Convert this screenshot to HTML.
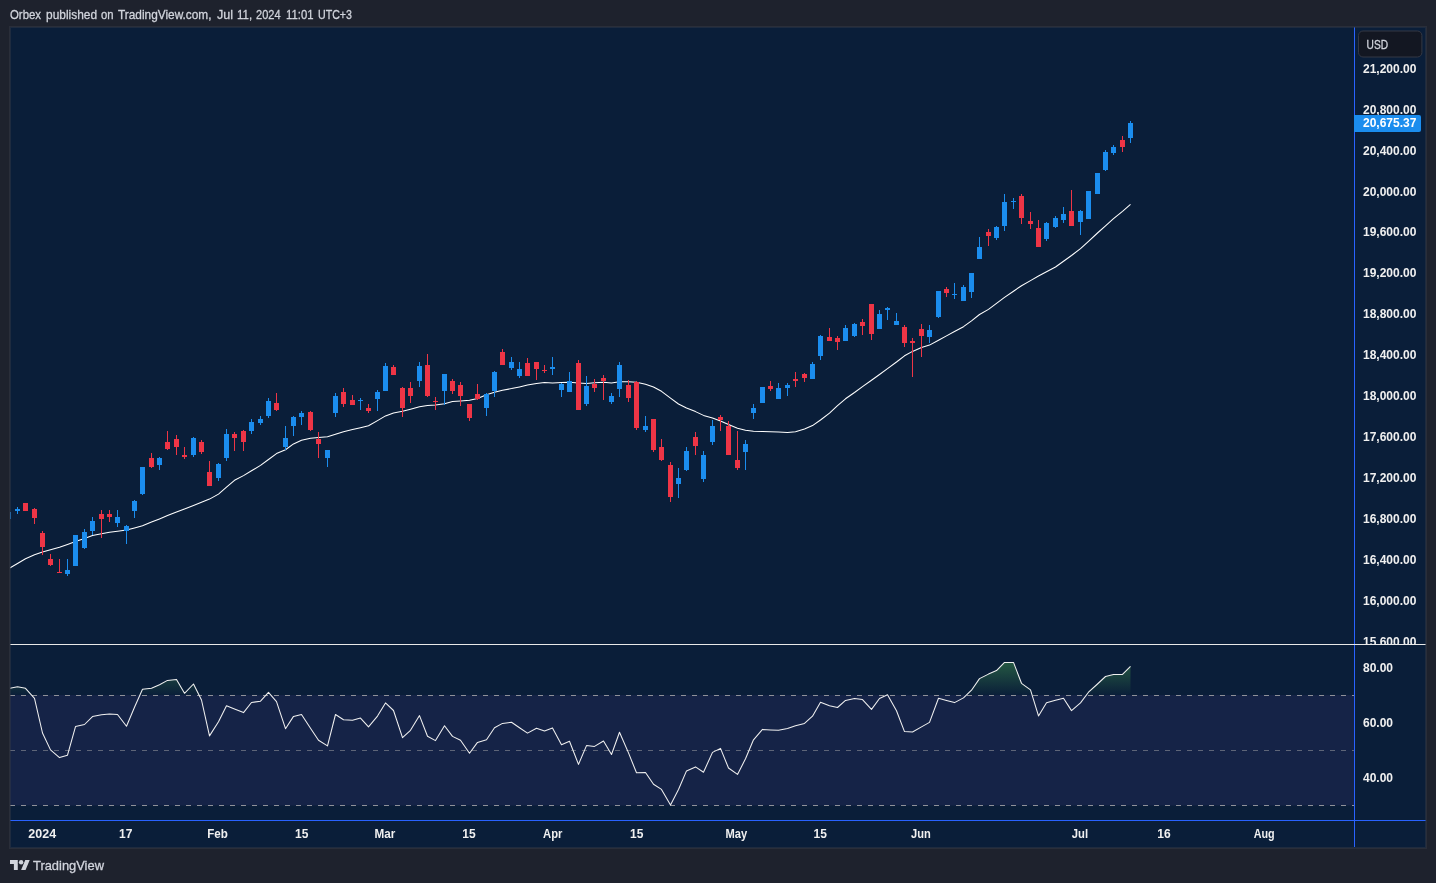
<!DOCTYPE html>
<html><head><meta charset="utf-8"><title>TradingView chart</title>
<style>
html,body{margin:0;padding:0;background:#1e222d;}
body{width:1436px;height:883px;position:relative;overflow:hidden;font-family:"Liberation Sans",sans-serif;}
.hw{position:absolute;top:7px;font-size:13px;line-height:15px;color:#d1d4dc;white-space:nowrap;transform-origin:0 0;-webkit-text-stroke:0.3px #d1d4dc;}
#frame{position:absolute;left:9px;top:26px;width:1416px;height:821px;border:1px solid #2a2e39;background:#0a1e39;}
#edge{position:absolute;left:10px;top:27px;width:1414px;height:819px;border:1px solid rgba(50,56,70,0.5);pointer-events:none;}
svg{position:absolute;left:0;top:0;}
.ax{font:bold 12px "Liberation Sans",sans-serif;fill:#f0f0f0;}
#logo{position:absolute;left:10px;top:860px;}
#tvtext{position:absolute;left:33px;top:857.6px;font-size:12.6px;line-height:16px;color:#d1d4dc;white-space:nowrap;transform-origin:0 0;transform:scaleX(1.024);-webkit-text-stroke:0.3px #d1d4dc;}
#wrap{position:absolute;left:0;top:0;width:1436px;height:883px;will-change:transform;}
</style></head><body><div id="wrap">
<span class="hw" style="left:9.50px;transform:scaleX(0.8762)">Orbex</span><span class="hw" style="left:46.00px;transform:scaleX(0.9164)">published</span><span class="hw" style="left:101.00px;transform:scaleX(0.8672)">on</span><span class="hw" style="left:117.50px;transform:scaleX(0.9113)">TradingView.com,</span><span class="hw" style="left:216.50px;transform:scaleX(0.9651)">Jul</span><span class="hw" style="left:236.50px;transform:scaleX(0.8811)">11,</span><span class="hw" style="left:256.00px;transform:scaleX(0.8479)">2024</span><span class="hw" style="left:285.50px;transform:scaleX(0.8715)">11:01</span><span class="hw" style="left:318.00px;transform:scaleX(0.8185)">UTC+3</span>
<div id="frame"></div>
<svg width="1436" height="883" viewBox="0 0 1436 883">
<defs>
<clipPath id="cpMain"><rect x="10" y="27" width="1344" height="617"/></clipPath>
<clipPath id="cpAxis"><rect x="1355" y="27" width="71" height="617"/></clipPath>
<clipPath id="cpRsi"><rect x="10" y="645" width="1344" height="175"/></clipPath>
<clipPath id="cpOB"><rect x="10" y="645" width="1344" height="50.5"/></clipPath>
<linearGradient id="gOB" gradientUnits="userSpaceOnUse" x1="0" y1="695.5" x2="0" y2="613">
<stop offset="0" stop-color="#4caf50" stop-opacity="0"/><stop offset="1" stop-color="#4caf50" stop-opacity="1"/></linearGradient>
</defs>
<!-- RSI band -->
<rect x="10" y="695" width="1344" height="110.5" fill="rgb(126,87,194)" fill-opacity="0.1"/>
<g clip-path="url(#cpOB)"><path d="M8.5 688.5 L17.5 686.8 L25.5 688.3 L34.5 698.4 L42.5 733.0 L50.5 749.9 L59.5 757.6 L67.5 755.2 L75.5 726.6 L84.5 724.5 L92.5 716.6 L101.5 714.8 L109.5 714.0 L117.5 714.5 L126.5 726.3 L134.5 707.3 L142.5 689.3 L151.5 688.3 L159.5 684.8 L167.5 680.4 L176.5 679.4 L184.5 693.3 L193.5 684.0 L201.5 700.0 L209.5 735.9 L218.5 721.8 L226.5 705.7 L234.5 708.9 L243.5 712.6 L251.5 702.5 L260.5 701.2 L268.5 692.3 L276.5 701.6 L285.5 728.7 L293.5 716.4 L301.5 714.5 L310.5 728.2 L318.5 740.3 L327.5 745.9 L335.5 714.5 L343.5 719.7 L352.5 720.3 L360.5 718.1 L368.5 726.9 L377.5 716.1 L385.5 702.9 L393.5 710.5 L402.5 737.7 L410.5 730.3 L419.5 715.6 L427.5 736.2 L435.5 740.6 L444.5 725.8 L452.5 736.4 L460.5 740.3 L469.5 753.2 L477.5 742.4 L486.5 739.8 L494.5 727.8 L502.5 723.4 L511.5 722.3 L519.5 727.8 L527.5 733.1 L536.5 728.3 L544.5 731.0 L552.5 727.9 L561.5 744.7 L569.5 741.3 L578.5 764.4 L586.5 745.6 L594.5 746.4 L603.5 741.0 L611.5 754.5 L619.5 732.3 L628.5 752.9 L636.5 772.8 L645.5 772.5 L653.5 784.2 L661.5 789.4 L670.5 805.0 L678.5 789.5 L686.5 770.9 L695.5 766.9 L703.5 772.2 L712.5 752.4 L720.5 748.4 L728.5 768.0 L737.5 774.4 L745.5 758.8 L753.5 739.8 L762.5 729.4 L770.5 729.9 L778.5 730.3 L787.5 728.6 L795.5 725.8 L804.5 723.4 L812.5 716.2 L820.5 702.2 L829.5 705.7 L837.5 707.5 L845.5 700.4 L854.5 698.5 L862.5 699.6 L871.5 709.4 L879.5 698.5 L887.5 694.8 L896.5 710.8 L904.5 731.6 L912.5 732.0 L921.5 726.9 L929.5 722.4 L938.5 698.3 L946.5 700.5 L954.5 702.6 L963.5 697.9 L971.5 690.2 L979.5 678.6 L988.5 674.1 L996.5 670.6 L1004.5 662.4 L1013.5 662.4 L1021.5 683.3 L1030.5 689.9 L1038.5 715.9 L1046.5 702.8 L1055.5 700.3 L1063.5 698.3 L1071.5 710.6 L1080.5 702.9 L1088.5 692.2 L1097.5 684.0 L1105.5 676.5 L1113.5 674.6 L1122.5 674.4 L1130.5 666.3 L1130.5 695.5 L8.5 695.5 Z" fill="url(#gOB)"/></g>
<g stroke="#8f9199" stroke-width="1" stroke-dasharray="5 6" fill="none">
<path d="M10 695.5H1354"/><path d="M10 750.5H1354" stroke-opacity="0.6"/><path d="M10 805.5H1354"/>
</g>
<g clip-path="url(#cpRsi)"><path d="M8.5 688.5 L17.5 686.8 L25.5 688.3 L34.5 698.4 L42.5 733.0 L50.5 749.9 L59.5 757.6 L67.5 755.2 L75.5 726.6 L84.5 724.5 L92.5 716.6 L101.5 714.8 L109.5 714.0 L117.5 714.5 L126.5 726.3 L134.5 707.3 L142.5 689.3 L151.5 688.3 L159.5 684.8 L167.5 680.4 L176.5 679.4 L184.5 693.3 L193.5 684.0 L201.5 700.0 L209.5 735.9 L218.5 721.8 L226.5 705.7 L234.5 708.9 L243.5 712.6 L251.5 702.5 L260.5 701.2 L268.5 692.3 L276.5 701.6 L285.5 728.7 L293.5 716.4 L301.5 714.5 L310.5 728.2 L318.5 740.3 L327.5 745.9 L335.5 714.5 L343.5 719.7 L352.5 720.3 L360.5 718.1 L368.5 726.9 L377.5 716.1 L385.5 702.9 L393.5 710.5 L402.5 737.7 L410.5 730.3 L419.5 715.6 L427.5 736.2 L435.5 740.6 L444.5 725.8 L452.5 736.4 L460.5 740.3 L469.5 753.2 L477.5 742.4 L486.5 739.8 L494.5 727.8 L502.5 723.4 L511.5 722.3 L519.5 727.8 L527.5 733.1 L536.5 728.3 L544.5 731.0 L552.5 727.9 L561.5 744.7 L569.5 741.3 L578.5 764.4 L586.5 745.6 L594.5 746.4 L603.5 741.0 L611.5 754.5 L619.5 732.3 L628.5 752.9 L636.5 772.8 L645.5 772.5 L653.5 784.2 L661.5 789.4 L670.5 805.0 L678.5 789.5 L686.5 770.9 L695.5 766.9 L703.5 772.2 L712.5 752.4 L720.5 748.4 L728.5 768.0 L737.5 774.4 L745.5 758.8 L753.5 739.8 L762.5 729.4 L770.5 729.9 L778.5 730.3 L787.5 728.6 L795.5 725.8 L804.5 723.4 L812.5 716.2 L820.5 702.2 L829.5 705.7 L837.5 707.5 L845.5 700.4 L854.5 698.5 L862.5 699.6 L871.5 709.4 L879.5 698.5 L887.5 694.8 L896.5 710.8 L904.5 731.6 L912.5 732.0 L921.5 726.9 L929.5 722.4 L938.5 698.3 L946.5 700.5 L954.5 702.6 L963.5 697.9 L971.5 690.2 L979.5 678.6 L988.5 674.1 L996.5 670.6 L1004.5 662.4 L1013.5 662.4 L1021.5 683.3 L1030.5 689.9 L1038.5 715.9 L1046.5 702.8 L1055.5 700.3 L1063.5 698.3 L1071.5 710.6 L1080.5 702.9 L1088.5 692.2 L1097.5 684.0 L1105.5 676.5 L1113.5 674.6 L1122.5 674.4 L1130.5 666.3" fill="none" stroke="#f0f0f0" stroke-width="1.05" stroke-linejoin="round"/></g>
<!-- candles -->
<g clip-path="url(#cpMain)"><path d="M8.5 568.8 L17.5 563.5 L25.5 558.8 L34.5 554.7 L42.5 552.0 L50.5 549.8 L59.5 547.3 L67.5 544.5 L75.5 541.6 L84.5 538.4 L92.5 535.5 L101.5 533.8 L109.5 532.2 L117.5 531.2 L126.5 530.0 L134.5 527.9 L142.5 525.8 L151.5 522.1 L159.5 518.9 L167.5 515.6 L176.5 511.9 L184.5 508.9 L193.5 505.5 L201.5 502.3 L209.5 499.1 L218.5 494.1 L226.5 487.1 L234.5 480.3 L243.5 475.6 L251.5 470.8 L260.5 465.4 L268.5 459.5 L276.5 453.6 L285.5 449.7 L293.5 443.9 L301.5 440.2 L310.5 438.2 L318.5 437.5 L327.5 436.8 L335.5 434.2 L343.5 431.7 L352.5 429.6 L360.5 427.7 L368.5 425.8 L377.5 420.6 L385.5 415.9 L393.5 413.0 L402.5 411.3 L410.5 409.2 L419.5 406.8 L427.5 405.4 L435.5 404.9 L444.5 403.7 L452.5 401.5 L460.5 400.9 L469.5 400.2 L477.5 398.6 L486.5 394.7 L494.5 392.2 L502.5 390.3 L511.5 388.6 L519.5 386.9 L527.5 385.1 L536.5 383.4 L544.5 382.5 L552.5 382.9 L561.5 382.6 L569.5 382.3 L578.5 382.9 L586.5 383.4 L594.5 382.8 L603.5 382.2 L611.5 383.0 L619.5 381.8 L628.5 381.7 L636.5 382.2 L645.5 384.2 L653.5 387.0 L661.5 391.3 L670.5 398.1 L678.5 404.0 L686.5 408.0 L695.5 411.6 L703.5 415.4 L712.5 418.0 L720.5 421.0 L728.5 424.4 L737.5 428.3 L745.5 430.3 L753.5 431.2 L762.5 431.5 L770.5 431.7 L778.5 432.0 L787.5 432.4 L795.5 431.7 L804.5 429.0 L812.5 425.6 L820.5 420.0 L829.5 413.2 L837.5 405.6 L845.5 398.8 L854.5 392.5 L862.5 386.6 L871.5 380.2 L879.5 374.5 L887.5 368.6 L896.5 362.0 L904.5 355.8 L912.5 351.4 L921.5 347.6 L929.5 345.1 L938.5 340.2 L946.5 335.9 L954.5 331.5 L963.5 326.7 L971.5 320.8 L979.5 314.5 L988.5 309.4 L996.5 303.4 L1004.5 297.4 L1013.5 291.2 L1021.5 285.7 L1030.5 280.6 L1038.5 276.0 L1046.5 271.8 L1055.5 267.0 L1063.5 261.2 L1071.5 255.5 L1080.5 248.7 L1088.5 241.3 L1097.5 233.0 L1105.5 225.8 L1113.5 218.7 L1122.5 211.3 L1130.5 204.4" fill="none" stroke="#ffffff" stroke-width="1.05" stroke-linejoin="round"/></g>
<g clip-path="url(#cpMain)" shape-rendering="crispEdges"><rect x="6" y="512" width="5" height="7" fill="#1b8dee"/><rect x="17" y="507" width="1" height="7" fill="#1b8dee"/><rect x="15" y="509" width="5" height="2" fill="#1b8dee"/><rect x="23" y="503" width="5" height="8" fill="#ee3546"/><rect x="34" y="508" width="1" height="16" fill="#ee3546"/><rect x="32" y="509" width="5" height="9" fill="#ee3546"/><rect x="42" y="531" width="1" height="24" fill="#ee3546"/><rect x="40" y="533" width="5" height="14" fill="#ee3546"/><rect x="50" y="554" width="1" height="12" fill="#ee3546"/><rect x="48" y="559" width="5" height="6" fill="#ee3546"/><rect x="59" y="559" width="1" height="14" fill="#ee3546"/><rect x="57" y="572" width="5" height="1" fill="#ee3546"/><rect x="67" y="559" width="1" height="17" fill="#1b8dee"/><rect x="65" y="570" width="5" height="4" fill="#1b8dee"/><rect x="73" y="535" width="5" height="31" fill="#1b8dee"/><rect x="84" y="529" width="1" height="20" fill="#1b8dee"/><rect x="82" y="532" width="5" height="16" fill="#1b8dee"/><rect x="92" y="517" width="1" height="18" fill="#1b8dee"/><rect x="90" y="521" width="5" height="10" fill="#1b8dee"/><rect x="101" y="510" width="1" height="28" fill="#ee3546"/><rect x="99" y="514" width="5" height="5" fill="#ee3546"/><rect x="109" y="510" width="1" height="12" fill="#ee3546"/><rect x="107" y="514" width="5" height="3" fill="#ee3546"/><rect x="117" y="510" width="1" height="17" fill="#1b8dee"/><rect x="115" y="517" width="5" height="6" fill="#1b8dee"/><rect x="126" y="525" width="1" height="19" fill="#1b8dee"/><rect x="124" y="526" width="5" height="5" fill="#1b8dee"/><rect x="134" y="500" width="1" height="18" fill="#1b8dee"/><rect x="132" y="501" width="5" height="10" fill="#1b8dee"/><rect x="142" y="467" width="1" height="28" fill="#1b8dee"/><rect x="140" y="467" width="5" height="27" fill="#1b8dee"/><rect x="151" y="453" width="1" height="15" fill="#ee3546"/><rect x="149" y="458" width="5" height="9" fill="#ee3546"/><rect x="159" y="457" width="1" height="13" fill="#1b8dee"/><rect x="157" y="458" width="5" height="7" fill="#1b8dee"/><rect x="167" y="431" width="1" height="19" fill="#ee3546"/><rect x="165" y="442" width="5" height="7" fill="#ee3546"/><rect x="176" y="435" width="1" height="20" fill="#ee3546"/><rect x="174" y="439" width="5" height="8" fill="#ee3546"/><rect x="184" y="447" width="1" height="12" fill="#ee3546"/><rect x="182" y="455" width="5" height="2" fill="#ee3546"/><rect x="193" y="437" width="1" height="20" fill="#1b8dee"/><rect x="191" y="438" width="5" height="17" fill="#1b8dee"/><rect x="201" y="440" width="1" height="14" fill="#ee3546"/><rect x="199" y="442" width="5" height="10" fill="#ee3546"/><rect x="209" y="461" width="1" height="25" fill="#ee3546"/><rect x="207" y="472" width="5" height="14" fill="#ee3546"/><rect x="218" y="463" width="1" height="18" fill="#1b8dee"/><rect x="216" y="464" width="5" height="14" fill="#1b8dee"/><rect x="226" y="429" width="1" height="32" fill="#1b8dee"/><rect x="224" y="434" width="5" height="24" fill="#1b8dee"/><rect x="234" y="432" width="1" height="19" fill="#ee3546"/><rect x="232" y="434" width="5" height="4" fill="#ee3546"/><rect x="243" y="430" width="1" height="21" fill="#ee3546"/><rect x="241" y="431" width="5" height="11" fill="#ee3546"/><rect x="251" y="419" width="1" height="15" fill="#1b8dee"/><rect x="249" y="422" width="5" height="9" fill="#1b8dee"/><rect x="260" y="416" width="1" height="9" fill="#1b8dee"/><rect x="258" y="419" width="5" height="4" fill="#1b8dee"/><rect x="268" y="398" width="1" height="20" fill="#1b8dee"/><rect x="266" y="401" width="5" height="15" fill="#1b8dee"/><rect x="276" y="393" width="1" height="18" fill="#ee3546"/><rect x="274" y="403" width="5" height="7" fill="#ee3546"/><rect x="285" y="426" width="1" height="24" fill="#1b8dee"/><rect x="283" y="438" width="5" height="9" fill="#1b8dee"/><rect x="293" y="416" width="1" height="20" fill="#1b8dee"/><rect x="291" y="417" width="5" height="9" fill="#1b8dee"/><rect x="301" y="411" width="1" height="14" fill="#1b8dee"/><rect x="299" y="413" width="5" height="4" fill="#1b8dee"/><rect x="310" y="411" width="1" height="20" fill="#ee3546"/><rect x="308" y="412" width="5" height="18" fill="#ee3546"/><rect x="318" y="432" width="1" height="26" fill="#ee3546"/><rect x="316" y="439" width="5" height="5" fill="#ee3546"/><rect x="327" y="450" width="1" height="17" fill="#1b8dee"/><rect x="325" y="450" width="5" height="8" fill="#1b8dee"/><rect x="335" y="393" width="1" height="24" fill="#1b8dee"/><rect x="333" y="396" width="5" height="17" fill="#1b8dee"/><rect x="343" y="388" width="1" height="19" fill="#ee3546"/><rect x="341" y="392" width="5" height="12" fill="#ee3546"/><rect x="352" y="395" width="1" height="10" fill="#ee3546"/><rect x="350" y="400" width="5" height="5" fill="#ee3546"/><rect x="360" y="398" width="1" height="12" fill="#1b8dee"/><rect x="358" y="400" width="5" height="1" fill="#1b8dee"/><rect x="368" y="404" width="1" height="9" fill="#ee3546"/><rect x="366" y="408" width="5" height="3" fill="#ee3546"/><rect x="377" y="390" width="1" height="21" fill="#1b8dee"/><rect x="375" y="392" width="5" height="7" fill="#1b8dee"/><rect x="385" y="363" width="1" height="28" fill="#1b8dee"/><rect x="383" y="366" width="5" height="25" fill="#1b8dee"/><rect x="393" y="365" width="1" height="10" fill="#ee3546"/><rect x="391" y="367" width="5" height="8" fill="#ee3546"/><rect x="402" y="387" width="1" height="30" fill="#ee3546"/><rect x="400" y="388" width="5" height="20" fill="#ee3546"/><rect x="410" y="382" width="1" height="21" fill="#ee3546"/><rect x="408" y="388" width="5" height="8" fill="#ee3546"/><rect x="419" y="362" width="1" height="25" fill="#1b8dee"/><rect x="417" y="366" width="5" height="15" fill="#1b8dee"/><rect x="427" y="354" width="1" height="43" fill="#ee3546"/><rect x="425" y="365" width="5" height="31" fill="#ee3546"/><rect x="435" y="397" width="1" height="13" fill="#ee3546"/><rect x="433" y="401" width="5" height="1" fill="#ee3546"/><rect x="444" y="374" width="1" height="31" fill="#1b8dee"/><rect x="442" y="374" width="5" height="17" fill="#1b8dee"/><rect x="452" y="379" width="1" height="15" fill="#ee3546"/><rect x="450" y="381" width="5" height="10" fill="#ee3546"/><rect x="460" y="382" width="1" height="24" fill="#ee3546"/><rect x="458" y="385" width="5" height="11" fill="#ee3546"/><rect x="469" y="404" width="1" height="17" fill="#ee3546"/><rect x="467" y="404" width="5" height="14" fill="#ee3546"/><rect x="477" y="384" width="1" height="16" fill="#ee3546"/><rect x="475" y="394" width="5" height="5" fill="#ee3546"/><rect x="486" y="393" width="1" height="23" fill="#1b8dee"/><rect x="484" y="394" width="5" height="14" fill="#1b8dee"/><rect x="494" y="371" width="1" height="26" fill="#1b8dee"/><rect x="492" y="372" width="5" height="19" fill="#1b8dee"/><rect x="502" y="349" width="1" height="16" fill="#ee3546"/><rect x="500" y="352" width="5" height="13" fill="#ee3546"/><rect x="511" y="357" width="1" height="13" fill="#1b8dee"/><rect x="509" y="362" width="5" height="6" fill="#1b8dee"/><rect x="519" y="362" width="1" height="16" fill="#1b8dee"/><rect x="517" y="369" width="5" height="7" fill="#1b8dee"/><rect x="527" y="358" width="1" height="18" fill="#ee3546"/><rect x="525" y="363" width="5" height="13" fill="#ee3546"/><rect x="536" y="362" width="1" height="18" fill="#ee3546"/><rect x="534" y="362" width="5" height="7" fill="#ee3546"/><rect x="544" y="365" width="1" height="8" fill="#ee3546"/><rect x="542" y="370" width="5" height="1" fill="#ee3546"/><rect x="552" y="357" width="1" height="18" fill="#1b8dee"/><rect x="550" y="367" width="5" height="2" fill="#1b8dee"/><rect x="561" y="383" width="1" height="14" fill="#1b8dee"/><rect x="559" y="384" width="5" height="6" fill="#1b8dee"/><rect x="569" y="372" width="1" height="20" fill="#1b8dee"/><rect x="567" y="381" width="5" height="11" fill="#1b8dee"/><rect x="578" y="360" width="1" height="50" fill="#ee3546"/><rect x="576" y="363" width="5" height="47" fill="#ee3546"/><rect x="586" y="376" width="1" height="30" fill="#1b8dee"/><rect x="584" y="386" width="5" height="18" fill="#1b8dee"/><rect x="594" y="379" width="1" height="13" fill="#ee3546"/><rect x="592" y="384" width="5" height="4" fill="#ee3546"/><rect x="603" y="375" width="1" height="25" fill="#ee3546"/><rect x="601" y="378" width="5" height="3" fill="#ee3546"/><rect x="611" y="393" width="1" height="11" fill="#1b8dee"/><rect x="609" y="396" width="5" height="6" fill="#1b8dee"/><rect x="619" y="362" width="1" height="35" fill="#1b8dee"/><rect x="617" y="365" width="5" height="24" fill="#1b8dee"/><rect x="628" y="380" width="1" height="22" fill="#ee3546"/><rect x="626" y="385" width="5" height="13" fill="#ee3546"/><rect x="636" y="381" width="1" height="49" fill="#ee3546"/><rect x="634" y="382" width="5" height="46" fill="#ee3546"/><rect x="645" y="416" width="1" height="16" fill="#1b8dee"/><rect x="643" y="426" width="5" height="4" fill="#1b8dee"/><rect x="653" y="419" width="1" height="33" fill="#ee3546"/><rect x="651" y="419" width="5" height="31" fill="#ee3546"/><rect x="661" y="439" width="1" height="22" fill="#ee3546"/><rect x="659" y="447" width="5" height="13" fill="#ee3546"/><rect x="670" y="462" width="1" height="40" fill="#ee3546"/><rect x="668" y="465" width="5" height="32" fill="#ee3546"/><rect x="678" y="468" width="1" height="30" fill="#1b8dee"/><rect x="676" y="478" width="5" height="6" fill="#1b8dee"/><rect x="686" y="447" width="1" height="24" fill="#1b8dee"/><rect x="684" y="451" width="5" height="19" fill="#1b8dee"/><rect x="695" y="432" width="1" height="23" fill="#ee3546"/><rect x="693" y="437" width="5" height="9" fill="#ee3546"/><rect x="703" y="451" width="1" height="31" fill="#1b8dee"/><rect x="701" y="455" width="5" height="24" fill="#1b8dee"/><rect x="712" y="420" width="1" height="25" fill="#1b8dee"/><rect x="710" y="426" width="5" height="16" fill="#1b8dee"/><rect x="720" y="415" width="1" height="16" fill="#ee3546"/><rect x="718" y="417" width="5" height="3" fill="#ee3546"/><rect x="728" y="421" width="1" height="34" fill="#ee3546"/><rect x="726" y="426" width="5" height="29" fill="#ee3546"/><rect x="737" y="431" width="1" height="39" fill="#ee3546"/><rect x="735" y="460" width="5" height="8" fill="#ee3546"/><rect x="745" y="440" width="1" height="30" fill="#1b8dee"/><rect x="743" y="444" width="5" height="8" fill="#1b8dee"/><rect x="753" y="404" width="1" height="15" fill="#1b8dee"/><rect x="751" y="408" width="5" height="5" fill="#1b8dee"/><rect x="760" y="387" width="5" height="16" fill="#1b8dee"/><rect x="770" y="381" width="1" height="10" fill="#ee3546"/><rect x="768" y="386" width="5" height="3" fill="#ee3546"/><rect x="778" y="383" width="1" height="16" fill="#1b8dee"/><rect x="776" y="388" width="5" height="11" fill="#1b8dee"/><rect x="787" y="383" width="1" height="13" fill="#1b8dee"/><rect x="785" y="385" width="5" height="3" fill="#1b8dee"/><rect x="795" y="372" width="1" height="15" fill="#ee3546"/><rect x="793" y="379" width="5" height="2" fill="#ee3546"/><rect x="804" y="373" width="1" height="9" fill="#ee3546"/><rect x="802" y="374" width="5" height="4" fill="#ee3546"/><rect x="812" y="362" width="1" height="17" fill="#1b8dee"/><rect x="810" y="364" width="5" height="15" fill="#1b8dee"/><rect x="820" y="335" width="1" height="25" fill="#1b8dee"/><rect x="818" y="336" width="5" height="20" fill="#1b8dee"/><rect x="829" y="328" width="1" height="13" fill="#ee3546"/><rect x="827" y="337" width="5" height="4" fill="#ee3546"/><rect x="837" y="336" width="1" height="14" fill="#ee3546"/><rect x="835" y="338" width="5" height="4" fill="#ee3546"/><rect x="845" y="325" width="1" height="16" fill="#1b8dee"/><rect x="843" y="328" width="5" height="13" fill="#1b8dee"/><rect x="854" y="323" width="1" height="14" fill="#1b8dee"/><rect x="852" y="324" width="5" height="12" fill="#1b8dee"/><rect x="862" y="319" width="1" height="16" fill="#ee3546"/><rect x="860" y="322" width="5" height="4" fill="#ee3546"/><rect x="871" y="304" width="1" height="36" fill="#ee3546"/><rect x="869" y="304" width="5" height="30" fill="#ee3546"/><rect x="879" y="310" width="1" height="19" fill="#1b8dee"/><rect x="877" y="314" width="5" height="15" fill="#1b8dee"/><rect x="887" y="307" width="1" height="13" fill="#1b8dee"/><rect x="885" y="308" width="5" height="2" fill="#1b8dee"/><rect x="896" y="313" width="1" height="12" fill="#1b8dee"/><rect x="894" y="321" width="5" height="4" fill="#1b8dee"/><rect x="904" y="325" width="1" height="22" fill="#ee3546"/><rect x="902" y="327" width="5" height="16" fill="#ee3546"/><rect x="912" y="338" width="1" height="39" fill="#ee3546"/><rect x="910" y="341" width="5" height="2" fill="#ee3546"/><rect x="921" y="324" width="1" height="33" fill="#ee3546"/><rect x="919" y="329" width="5" height="7" fill="#ee3546"/><rect x="929" y="325" width="1" height="18" fill="#1b8dee"/><rect x="927" y="330" width="5" height="7" fill="#1b8dee"/><rect x="938" y="291" width="1" height="27" fill="#1b8dee"/><rect x="936" y="291" width="5" height="26" fill="#1b8dee"/><rect x="946" y="287" width="1" height="10" fill="#ee3546"/><rect x="944" y="289" width="5" height="4" fill="#ee3546"/><rect x="954" y="283" width="1" height="16" fill="#1b8dee"/><rect x="952" y="294" width="5" height="1" fill="#1b8dee"/><rect x="963" y="285" width="1" height="16" fill="#1b8dee"/><rect x="961" y="287" width="5" height="14" fill="#1b8dee"/><rect x="971" y="273" width="1" height="25" fill="#1b8dee"/><rect x="969" y="273" width="5" height="19" fill="#1b8dee"/><rect x="979" y="237" width="1" height="22" fill="#1b8dee"/><rect x="977" y="247" width="5" height="12" fill="#1b8dee"/><rect x="988" y="229" width="1" height="17" fill="#ee3546"/><rect x="986" y="232" width="5" height="4" fill="#ee3546"/><rect x="996" y="226" width="1" height="14" fill="#1b8dee"/><rect x="994" y="227" width="5" height="11" fill="#1b8dee"/><rect x="1004" y="194" width="1" height="37" fill="#1b8dee"/><rect x="1002" y="202" width="5" height="24" fill="#1b8dee"/><rect x="1013" y="198" width="1" height="11" fill="#1b8dee"/><rect x="1011" y="201" width="5" height="1" fill="#1b8dee"/><rect x="1021" y="194" width="1" height="30" fill="#ee3546"/><rect x="1019" y="196" width="5" height="22" fill="#ee3546"/><rect x="1030" y="212" width="1" height="17" fill="#ee3546"/><rect x="1028" y="221" width="5" height="3" fill="#ee3546"/><rect x="1038" y="220" width="1" height="27" fill="#ee3546"/><rect x="1036" y="228" width="5" height="19" fill="#ee3546"/><rect x="1046" y="222" width="1" height="19" fill="#1b8dee"/><rect x="1044" y="223" width="5" height="16" fill="#1b8dee"/><rect x="1055" y="216" width="1" height="12" fill="#1b8dee"/><rect x="1053" y="218" width="5" height="9" fill="#1b8dee"/><rect x="1063" y="207" width="1" height="16" fill="#1b8dee"/><rect x="1061" y="214" width="5" height="6" fill="#1b8dee"/><rect x="1071" y="190" width="1" height="36" fill="#ee3546"/><rect x="1069" y="211" width="5" height="15" fill="#ee3546"/><rect x="1080" y="210" width="1" height="25" fill="#1b8dee"/><rect x="1078" y="211" width="5" height="11" fill="#1b8dee"/><rect x="1086" y="191" width="5" height="28" fill="#1b8dee"/><rect x="1095" y="173" width="5" height="21" fill="#1b8dee"/><rect x="1105" y="150" width="1" height="21" fill="#1b8dee"/><rect x="1103" y="152" width="5" height="18" fill="#1b8dee"/><rect x="1113" y="145" width="1" height="10" fill="#1b8dee"/><rect x="1111" y="147" width="5" height="6" fill="#1b8dee"/><rect x="1122" y="136" width="1" height="16" fill="#ee3546"/><rect x="1120" y="140" width="5" height="7" fill="#ee3546"/><rect x="1130" y="121" width="1" height="22" fill="#1b8dee"/><rect x="1128" y="123" width="5" height="15" fill="#1b8dee"/></g>
<!-- axes lines -->
<rect x="1354" y="27" width="1" height="820" fill="#2962ff"/>
<rect x="10" y="820" width="1416" height="1" fill="#2962ff"/>
<rect x="10" y="644" width="1416" height="1" fill="#e8e8e8"/>
<!-- price labels -->
<g class="ax" clip-path="url(#cpAxis)">
<text x="1363" y="72.7">21,200.00</text><text x="1363" y="113.6">20,800.00</text><text x="1363" y="154.6">20,400.00</text><text x="1363" y="195.5">20,000.00</text><text x="1363" y="236.4">19,600.00</text><text x="1363" y="277.4">19,200.00</text><text x="1363" y="318.3">18,800.00</text><text x="1363" y="359.2">18,400.00</text><text x="1363" y="400.1">18,000.00</text><text x="1363" y="441.1">17,600.00</text><text x="1363" y="482.0">17,200.00</text><text x="1363" y="522.9">16,800.00</text><text x="1363" y="563.9">16,400.00</text><text x="1363" y="604.8">16,000.00</text><text x="1363" y="645.7">15,600.00</text>
</g>
<g class="ax">
<text x="1363" y="671.9">80.00</text><text x="1363" y="726.9">60.00</text><text x="1363" y="781.9">40.00</text>
<text x="42.2" y="838" text-anchor="middle" textLength="27.8" lengthAdjust="spacingAndGlyphs">2024</text><text x="125.7" y="838" text-anchor="middle">17</text><text x="217.6" y="838" text-anchor="middle" textLength="20.6" lengthAdjust="spacingAndGlyphs">Feb</text><text x="301.7" y="838" text-anchor="middle">15</text><text x="385.0" y="838" text-anchor="middle" textLength="20.8" lengthAdjust="spacingAndGlyphs">Mar</text><text x="469.0" y="838" text-anchor="middle">15</text><text x="552.7" y="838" text-anchor="middle" textLength="19.3" lengthAdjust="spacingAndGlyphs">Apr</text><text x="636.8" y="838" text-anchor="middle">15</text><text x="736.4" y="838" text-anchor="middle" textLength="21.7" lengthAdjust="spacingAndGlyphs">May</text><text x="820.3" y="838" text-anchor="middle">15</text><text x="920.9" y="838" text-anchor="middle" textLength="19.7" lengthAdjust="spacingAndGlyphs">Jun</text><text x="1080.0" y="838" text-anchor="middle" textLength="16.3" lengthAdjust="spacingAndGlyphs">Jul</text><text x="1163.9" y="838" text-anchor="middle">16</text><text x="1264.2" y="838" text-anchor="middle" textLength="20.9" lengthAdjust="spacingAndGlyphs">Aug</text>
</g>
<!-- current price label -->
<path d="M1354 115H1419a2 2 0 0 1 2 2V130a2 2 0 0 1 -2 2H1354Z" fill="#1b8dee"/>
<text class="ax" x="1363" y="127" style="fill:#fff">20,675.37</text>
<!-- USD box -->
<rect x="1358.5" y="31" width="63.4" height="26" rx="4.5" ry="4.5" fill="#131722" stroke="#343844" stroke-width="1"/>
<text x="1366.6" y="49" textLength="21.5" lengthAdjust="spacingAndGlyphs" style="font:12px 'Liberation Sans',sans-serif;fill:#d1d4dc;stroke:#d1d4dc;stroke-width:0.3px">USD</text>
</svg>
<div id="edge"></div>
<svg id="logo" width="20" height="10" viewBox="0 4 36 18" style="left:10px;top:860px"><path fill="#d1d4dc" d="M14 22H7V11H0V4h14v18zM28 22h-8l7.5-18h8L28 22z"/><circle fill="#d1d4dc" cx="20" cy="8" r="4"/></svg>
<div id="tvtext">TradingView</div>
</div></body></html>
